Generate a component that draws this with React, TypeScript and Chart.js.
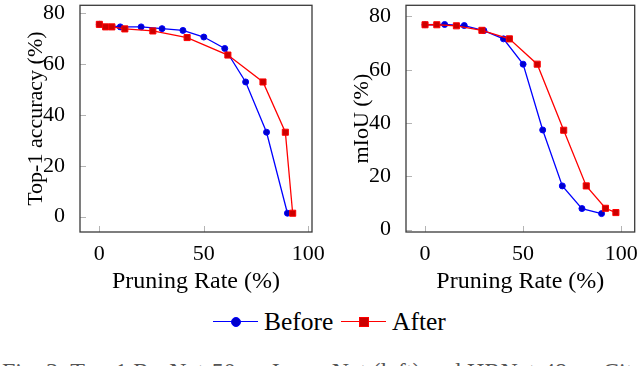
import React, { useEffect, useRef } from "react";
import { Chart, registerables } from "chart.js";

Chart.register(...registerables);

const FONT = "'Liberation Serif', 'Times New Roman', serif";

// Left plot: Top-1 accuracy vs pruning rate
const leftBeforeRate = [0, 10, 20, 30, 40, 50, 60, 70, 80, 90];
const leftBeforeAcc = [75.7, 74.7, 74.7, 74.0, 73.3, 70.7, 66.2, 53.0, 33.2, 1.3];
const leftAfterRate = [0, 3, 6, 12.2, 25.6, 42, 61.5, 78.3, 89, 92.5];
const leftAfterAcc = [75.7, 74.7, 74.7, 73.9, 73.1, 70.5, 63.6, 53.0, 33.2, 1.3];

// Right plot: mIoU vs pruning rate
const rightBeforeRate = [0, 10, 20, 30, 40, 50, 60, 70, 80, 90];
const rightBeforeMiou = [76.9, 77.0, 76.6, 74.7, 71.6, 62.1, 37.4, 16.4, 7.9, 6.0];
const rightAfterRate = [0, 6, 16, 29, 43, 57.2, 70.7, 82.2, 92, 97.3];
const rightAfterMiou = [76.9, 76.9, 76.5, 74.8, 71.6, 62.1, 37.3, 16.4, 8.0, 6.4];

const xTicks = [0, 50, 100];
const leftYTicks = [0, 20, 40, 60, 80];
const rightYTicks = [0, 20, 40, 60, 80];

const seriesLabels = ["Before", "After"];
const xTitle = "Pruning Rate (%)";
const leftYTitle = "Top-1 accuracy (%)";
const rightYTitle = "mIoU (%)";

const BLUE = "#0000ff";
const BLUE_FILL = "#0000cc";
const RED = "#ff0000";
const RED_FILL = "#cc0000";

const framePlugin = {
  id: "pgfFrame",
  beforeDatasetsDraw(chart: any) {
    const { ctx, chartArea: a, scales } = chart;
    ctx.save();
    ctx.strokeStyle = "#b4b4b4";
    ctx.lineWidth = 1;
    scales.x.ticks.forEach((t: any) => {
      const px = Math.round(scales.x.getPixelForValue(t.value)) + 0.5;
      ctx.beginPath();
      ctx.moveTo(px, a.bottom);
      ctx.lineTo(px, a.bottom - 6);
      ctx.stroke();
    });
    scales.y.ticks.forEach((t: any) => {
      const py = Math.round(scales.y.getPixelForValue(t.value)) + 0.5;
      ctx.beginPath();
      ctx.moveTo(a.left, py);
      ctx.lineTo(a.left + 6, py);
      ctx.stroke();
    });
    ctx.restore();
  },
  afterDraw(chart: any) {
    const { ctx, chartArea: a } = chart;
    ctx.save();
    ctx.strokeStyle = "#3a3a3a";
    ctx.lineWidth = 1.3;
    ctx.strokeRect(a.left, a.top, a.right - a.left, a.bottom - a.top);
    ctx.restore();
  },
};

type PlotProps = {
  beforeX: number[];
  beforeY: number[];
  afterX: number[];
  afterY: number[];
  yTicks: number[];
  yTitle: string;
  xMin: number;
  xMax: number;
  yMin: number;
  yMax: number;
  yAxisWidth: number;
  yTitlePad: number;
  padRight: number;
  left: number;
  width: number;
};

function Plot(p: PlotProps) {
  const ref = useRef<HTMLCanvasElement | null>(null);
  useEffect(() => {
    if (!ref.current) return;
    const chart = new Chart(ref.current, {
      type: "line",
      data: {
        datasets: [
          {
            label: seriesLabels[0],
            data: p.beforeX.map((x, i) => ({ x, y: p.beforeY[i] })),
            borderColor: BLUE,
            backgroundColor: BLUE_FILL,
            pointBackgroundColor: BLUE_FILL,
            pointBorderColor: BLUE,
            pointStyle: "circle",
            pointRadius: 3,
            pointBorderWidth: 1,
            borderWidth: 1.3,
            tension: 0,
            order: 1,
          },
          {
            label: seriesLabels[1],
            data: p.afterX.map((x, i) => ({ x, y: p.afterY[i] })),
            borderColor: RED,
            backgroundColor: RED_FILL,
            pointBackgroundColor: RED_FILL,
            pointBorderColor: RED,
            pointStyle: "rect",
            pointRadius: 4.3,
            pointBorderWidth: 1,
            borderWidth: 1.3,
            tension: 0,
            order: 0,
          },
        ],
      },
      options: {
        animation: false,
        responsive: false,
        maintainAspectRatio: false,
        devicePixelRatio: 1,
        layout: { padding: { left: 0, top: 2, right: p.padRight, bottom: 0 } },
        plugins: {
          legend: { display: false },
          tooltip: { enabled: false },
        },
        scales: {
          x: {
            type: "linear",
            min: p.xMin,
            max: p.xMax,
            grid: { display: false },
            border: { display: false },
            afterBuildTicks: (s: any) => {
              s.ticks = xTicks.map((v) => ({ value: v }));
            },
            afterFit: (s: any) => {
              s.height = 68;
              s.paddingLeft = 0;
              s.paddingRight = 0;
              s.paddingTop = 0;
              s.paddingBottom = 0;
            },
            ticks: {
              color: "#000",
              padding: 1,
              maxRotation: 0,
              autoSkip: false,
              font: { family: FONT, size: 22 },
            },
            title: {
              display: true,
              text: xTitle,
              color: "#000",
              font: { family: FONT, size: 24 },
              padding: { top: 0, bottom: 4 },
            },
          },
          y: {
            type: "linear",
            min: p.yMin,
            max: p.yMax,
            grid: { display: false },
            border: { display: false },
            afterBuildTicks: (s: any) => {
              s.ticks = p.yTicks.map((v) => ({ value: v }));
            },
            afterFit: (s: any) => {
              s.width = p.yAxisWidth;
              s.paddingLeft = 0;
              s.paddingRight = 0;
              s.paddingTop = 0;
              s.paddingBottom = 0;
            },
            ticks: {
              color: "#000",
              padding: 7,
              autoSkip: false,
              font: { family: FONT, size: 22 },
            },
            title: {
              display: true,
              text: p.yTitle,
              color: "#000",
              font: { family: FONT, size: 22 },
              padding: { top: p.yTitlePad, bottom: 4 },
            },
          },
        },
      },
      plugins: [framePlugin],
    } as any);
    return () => chart.destroy();
  }, []);
  return (
    <canvas
      ref={ref}
      width={p.width}
      height={300}
      style={{ position: "absolute", left: p.left, top: 0, width: p.width, height: 300 }}
    />
  );
}

export default function App() {
  const textStyle: React.CSSProperties = {
    position: "absolute",
    top: 307,
    height: 30,
    lineHeight: "30px",
    fontFamily: FONT,
    fontSize: 25.5,
    color: "#000",
    whiteSpace: "nowrap",
  };
  return (
    <div
      style={{
        position: "absolute",
        left: 0,
        top: 0,
        width: 640,
        height: 366,
        overflow: "hidden",
        background: "#fff",
      }}
    >
      <Plot
        beforeX={leftBeforeRate}
        beforeY={leftBeforeAcc}
        afterX={leftAfterRate}
        afterY={leftAfterAcc}
        yTicks={leftYTicks}
        yTitle={leftYTitle}
        xMin={-9.25}
        xMax={101.75}
        yMin={-6.1}
        yMax={83.2}
        yAxisWidth={80}
        yTitlePad={23}
        padRight={28}
        left={0}
        width={340}
      />
      <Plot
        beforeX={rightBeforeRate}
        beforeY={rightBeforeMiou}
        afterX={rightAfterRate}
        afterY={rightAfterMiou}
        yTicks={rightYTicks}
        yTitle={rightYTitle}
        xMin={-9.7}
        xMax={106.9}
        yMin={-0.9}
        yMax={84.2}
        yAxisWidth={86}
        yTitlePad={29}
        padRight={3}
        left={320}
        width={320}
      />
      {/* Legend */}
      <div style={{ position: "absolute", left: 213, top: 321, width: 45, height: 0, borderTop: `1.4px solid ${BLUE}` }} />
      <div
        style={{
          position: "absolute",
          left: 231,
          top: 317,
          width: 8,
          height: 8,
          borderRadius: "50%",
          background: BLUE_FILL,
          border: `1px solid ${BLUE}`,
        }}
      />
      <div style={{ ...textStyle, left: 264 }}>{seriesLabels[0]}</div>
      <div style={{ position: "absolute", left: 341, top: 321, width: 45, height: 0, borderTop: `1.4px solid ${RED}` }} />
      <div
        style={{
          position: "absolute",
          left: 359,
          top: 317,
          width: 8,
          height: 8,
          background: RED_FILL,
          border: `1px solid ${RED}`,
        }}
      />
      <div style={{ ...textStyle, left: 392 }}>{seriesLabels[1]}</div>
      {/* Caption (cut off at the bottom edge) */}
      <div
        style={{
          position: "absolute",
          left: 2,
          top: 359,
          fontFamily: FONT,
          fontSize: 24,
          lineHeight: "24px",
          color: "#555",
          whiteSpace: "nowrap",
        }}
      >
        Fig. 3: Top-1 ResNet-50 on ImageNet (left) and HRNet-48 on Cityscapes (right).
      </div>
    </div>
  );
}
